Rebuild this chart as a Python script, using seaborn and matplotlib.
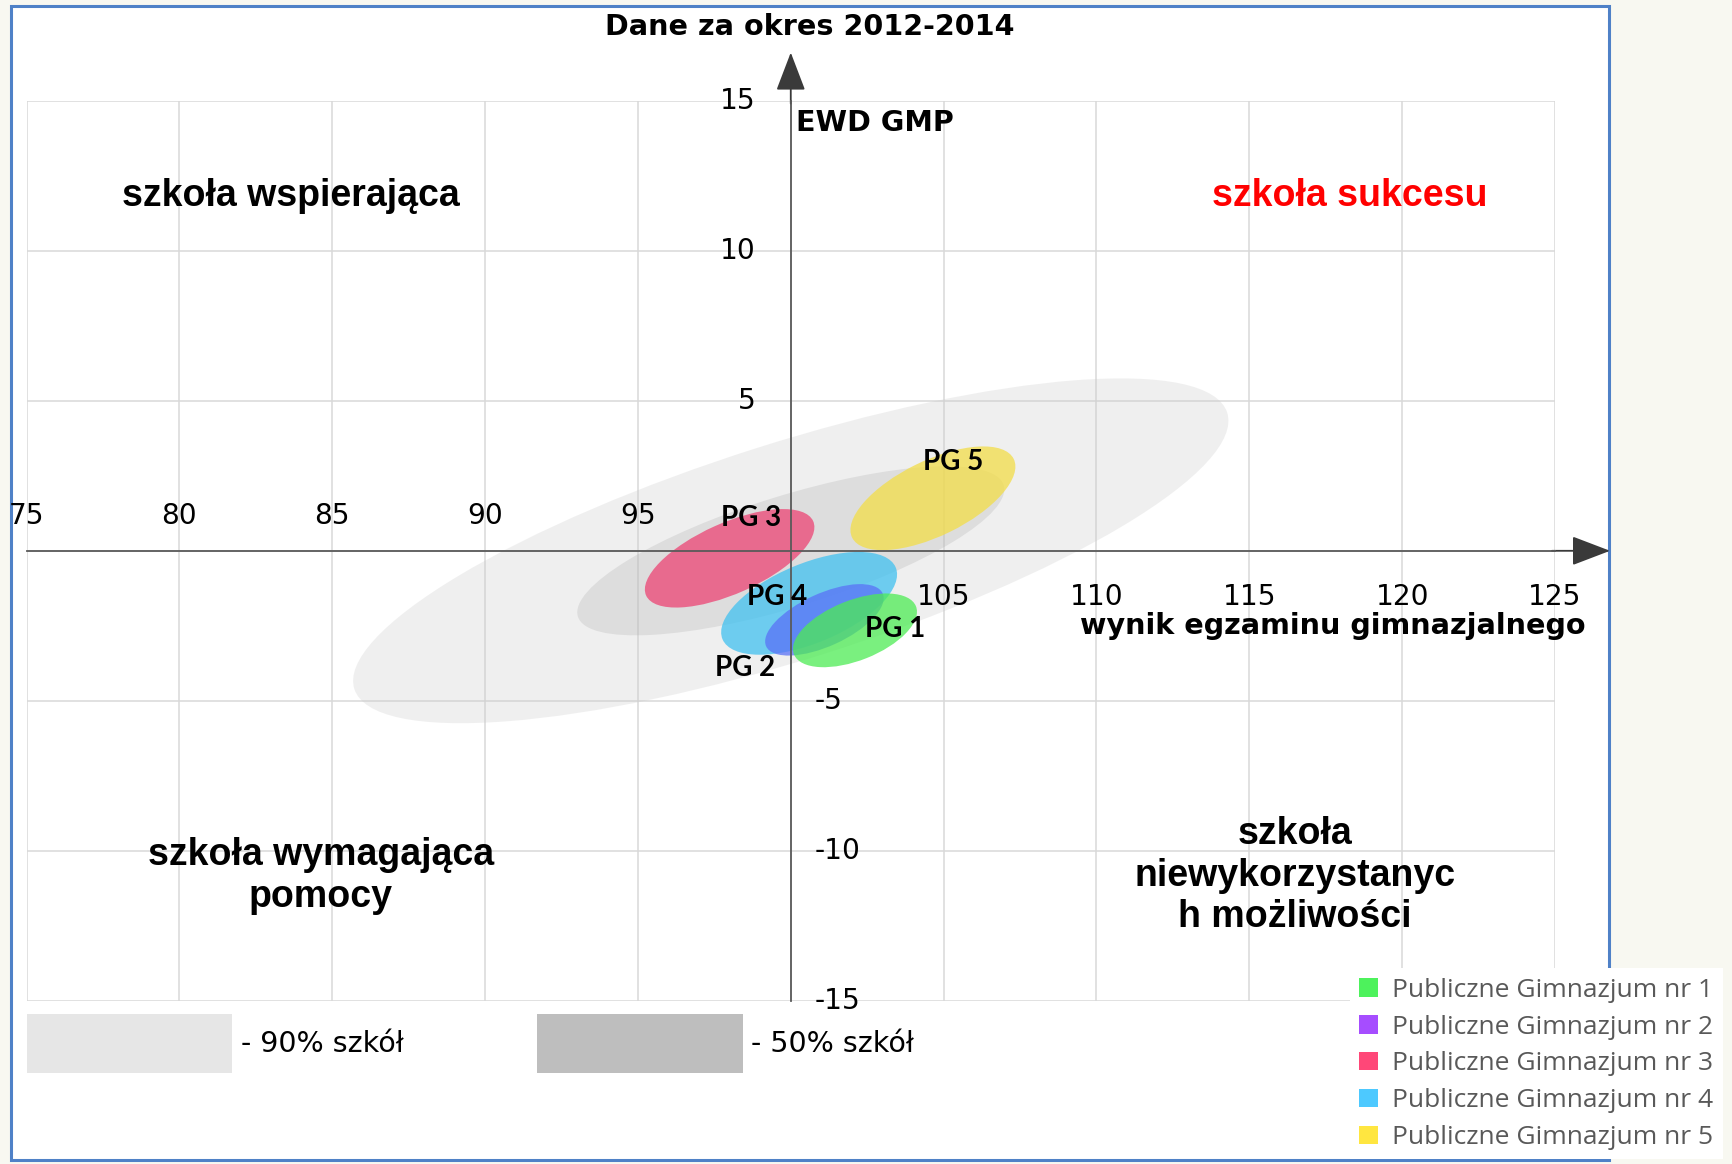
import numpy as np
import pandas as pd
import matplotlib
matplotlib.use("Agg")
import matplotlib.pyplot as plt
from matplotlib.patches import Ellipse, Rectangle, Patch
import seaborn as sns

# schools (ellipses: centre, full width/height, angle in degrees)
schools = ['PG 1', 'PG 2', 'PG 3', 'PG 4', 'PG 5']
legend_names = ['Publiczne Gimnazjum nr 1', 'Publiczne Gimnazjum nr 2', 'Publiczne Gimnazjum nr 3',
                'Publiczne Gimnazjum nr 4', 'Publiczne Gimnazjum nr 5']
center_x = [102.1, 101.1, 98.0, 100.6, 104.65]
center_y = [-2.65, -2.3, -0.25, -1.75, 1.75]
ell_width = [4.3, 4.2, 6.0, 6.15, 5.9]
ell_height = [2.0, 1.75, 2.35, 2.65, 2.5]
ell_angle = [22, 25, 24.5, 23, 26.5]
label_x = [103.4, 98.5, 98.7, 99.55, 105.3]
label_y = [-2.6, -3.9, 1.1, -1.55, 2.95]
draw_order = ['PG 3', 'PG 5', 'PG 4', 'PG 2', 'PG 1']

fill_colors = ['#4DEB54', '#5A72F7', '#ED4474', '#41C1F0', '#F3DD48']
legend_colors = ['#4DF25C', '#A64DFF', '#FF4778', '#4DC9FF', '#FFE640']

# reference ranges for all schools
range_names = ['- 90% szkół', '- 50% szkół']
range_cx = [100.0, 100.0]
range_cy = [0.0, 0.0]
range_width = [30.0, 14.6]
range_height = [7.2, 3.7]
range_angle = [17.9, 17.5]
range_colors = ['#c8c8c8', '#b0b0b0']
range_key_colors = ['#e6e6e6', '#bebebe']

x_ticks = [75, 80, 85, 90, 95, 100, 105, 110, 115, 120, 125]
y_ticks = [-15, -10, -5, 0, 5, 10, 15]

df = pd.DataFrame({'school': schools, 'x': center_x, 'y': center_y, 'w': ell_width,
                   'h': ell_height, 'angle': ell_angle, 'lx': label_x, 'ly': label_y,
                   'color': fill_colors}).set_index('school')

sns.set_theme(style='white')
plt.rcParams['font.family'] = ['DejaVu Sans']
plt.rcParams['text.color'] = 'black'

fig = plt.figure(figsize=(17.33, 11.64), dpi=100)
fig.patch.set_facecolor('#f8f8f1')
fig.patches.append(Rectangle((0.0064, 0.0034), 0.922, 0.9918, transform=fig.transFigure,
                             facecolor='white', edgecolor='#4f81c7', lw=2.2, zorder=-10))

ax = fig.add_axes([0.0153, 0.14, 0.882, 0.7736])
ax.set_facecolor('none')
ax.set_xlim(75, 125)
ax.set_ylim(-15, 15)
ax.set_xticks(x_ticks)
ax.set_yticks(y_ticks)
ax.grid(True, color='#d9d9d9', lw=1.1)
ax.set_axisbelow(True)

for cx, cy, w, h, a, c in zip(range_cx, range_cy, range_width, range_height, range_angle, range_colors):
    ax.add_patch(Ellipse((cx, cy), w, h, angle=a, facecolor=c, edgecolor='none', alpha=0.28, zorder=1))

for s in draw_order:
    r = df.loc[s]
    ax.add_patch(Ellipse((r.x, r.y), r.w, r.h, angle=r.angle, facecolor=r.color,
                         edgecolor='none', alpha=0.75, zorder=1.2))
    ax.text(r.lx, r.ly, s, ha='center', va='center', fontsize=20, fontweight='bold',
            family='Lato', color='black', zorder=4)

# axes through the origin
sns.despine(ax=ax)
ax.spines['left'].set_visible(True)
ax.spines['bottom'].set_visible(True)
ax.spines['left'].set_position(('data', 100))
ax.spines['bottom'].set_position(('data', 0))
for sp in ['left', 'bottom']:
    ax.spines[sp].set_color('#5a5a5a')
    ax.spines[sp].set_linewidth(1.3)
    ax.spines[sp].set_zorder(3)
ax.tick_params(direction='inout', length=21, width=1.1, color='#5a5a5a',
               labelleft=False, labelbottom=False)

arrow = dict(arrowstyle='-|>,head_length=1.1,head_width=0.42', mutation_scale=22,
             color='#3a3a3a', lw=1.3, shrinkA=0, shrinkB=0)
ax.annotate('', xy=(126.8, 0), xytext=(124.9, 0), annotation_clip=False, arrowprops=arrow)
ax.annotate('', xy=(100, 16.6), xytext=(100, 14.9), annotation_clip=False, arrowprops=arrow)

# tick labels: left ones above the axis, right ones below
for v in x_ticks:
    if v == 100:
        continue
    off = 25 if v < 100 else -33
    ax.annotate(str(v), (v, 0), xytext=(0, off), textcoords='offset points',
                ha='center', va='center', fontsize=20.2)
for v in y_ticks:
    if v == 0:
        continue
    if v > 0:
        ax.annotate(str(v), (100, v), xytext=(-25, 0), textcoords='offset points',
                    ha='right', va='center', fontsize=20.2)
    else:
        ax.annotate(str(v), (100, v), xytext=(17, 0), textcoords='offset points',
                    ha='left', va='center', fontsize=20.2)

ax.text(100.17, 14.26, 'EWD GMP', ha='left', va='center', fontsize=20.6, fontweight='bold')
ax.text(126.0, -2.51, 'wynik egzaminu gimnazjalnego', ha='right', va='center',
        fontsize=20.6, fontweight='bold', clip_on=False)

quad = dict(ha='center', va='center', fontsize=27, fontweight='bold', family='Liberation Sans')
ax.text(83.64, 11.83, 'szkoła wspierająca', color='black', **quad)
ax.text(118.28, 11.83, 'szkoła sukcesu', color='#ff0000', **quad)
ax.text(84.62, -10.83, 'szkoła wymagająca\npomocy', color='black', **quad)
ax.text(116.48, -10.83, 'szkoła\nniewykorzystanyc\nh możliwości', color='black', **quad)

fig.text(0.4675, 0.977, 'Dane za okres 2012-2014', ha='center', va='center',
         fontsize=20.6, fontweight='bold')

# keys for the grey ranges
key_x = [0.0153, 0.3099]
for kx, c, name in zip(key_x, range_key_colors, range_names):
    fig.patches.append(Rectangle((kx, 0.0782), 0.1186, 0.0507, transform=fig.transFigure,
                                 facecolor=c, edgecolor='none'))
    fig.text(kx + 0.1237, 0.1034, name, ha='left', va='center', fontsize=20.5)

handles = [Patch(facecolor=c, edgecolor='none') for c in legend_colors]
leg = fig.legend(handles, legend_names, loc='upper left', bbox_to_anchor=(0.779, 0.168),
                 frameon=True, facecolor='white', edgecolor='none', framealpha=1,
                 handlelength=0.7, handleheight=0.7, handletextpad=0.55,
                 labelspacing=0.45, borderpad=0.35, borderaxespad=0,
                 prop={'family': 'Open Sans', 'size': 19})
for t in leg.get_texts():
    t.set_color('#595959')
leg.get_frame().set_boxstyle('square', pad=0)

fig.savefig('out.png', dpi=100, facecolor=fig.get_facecolor())
